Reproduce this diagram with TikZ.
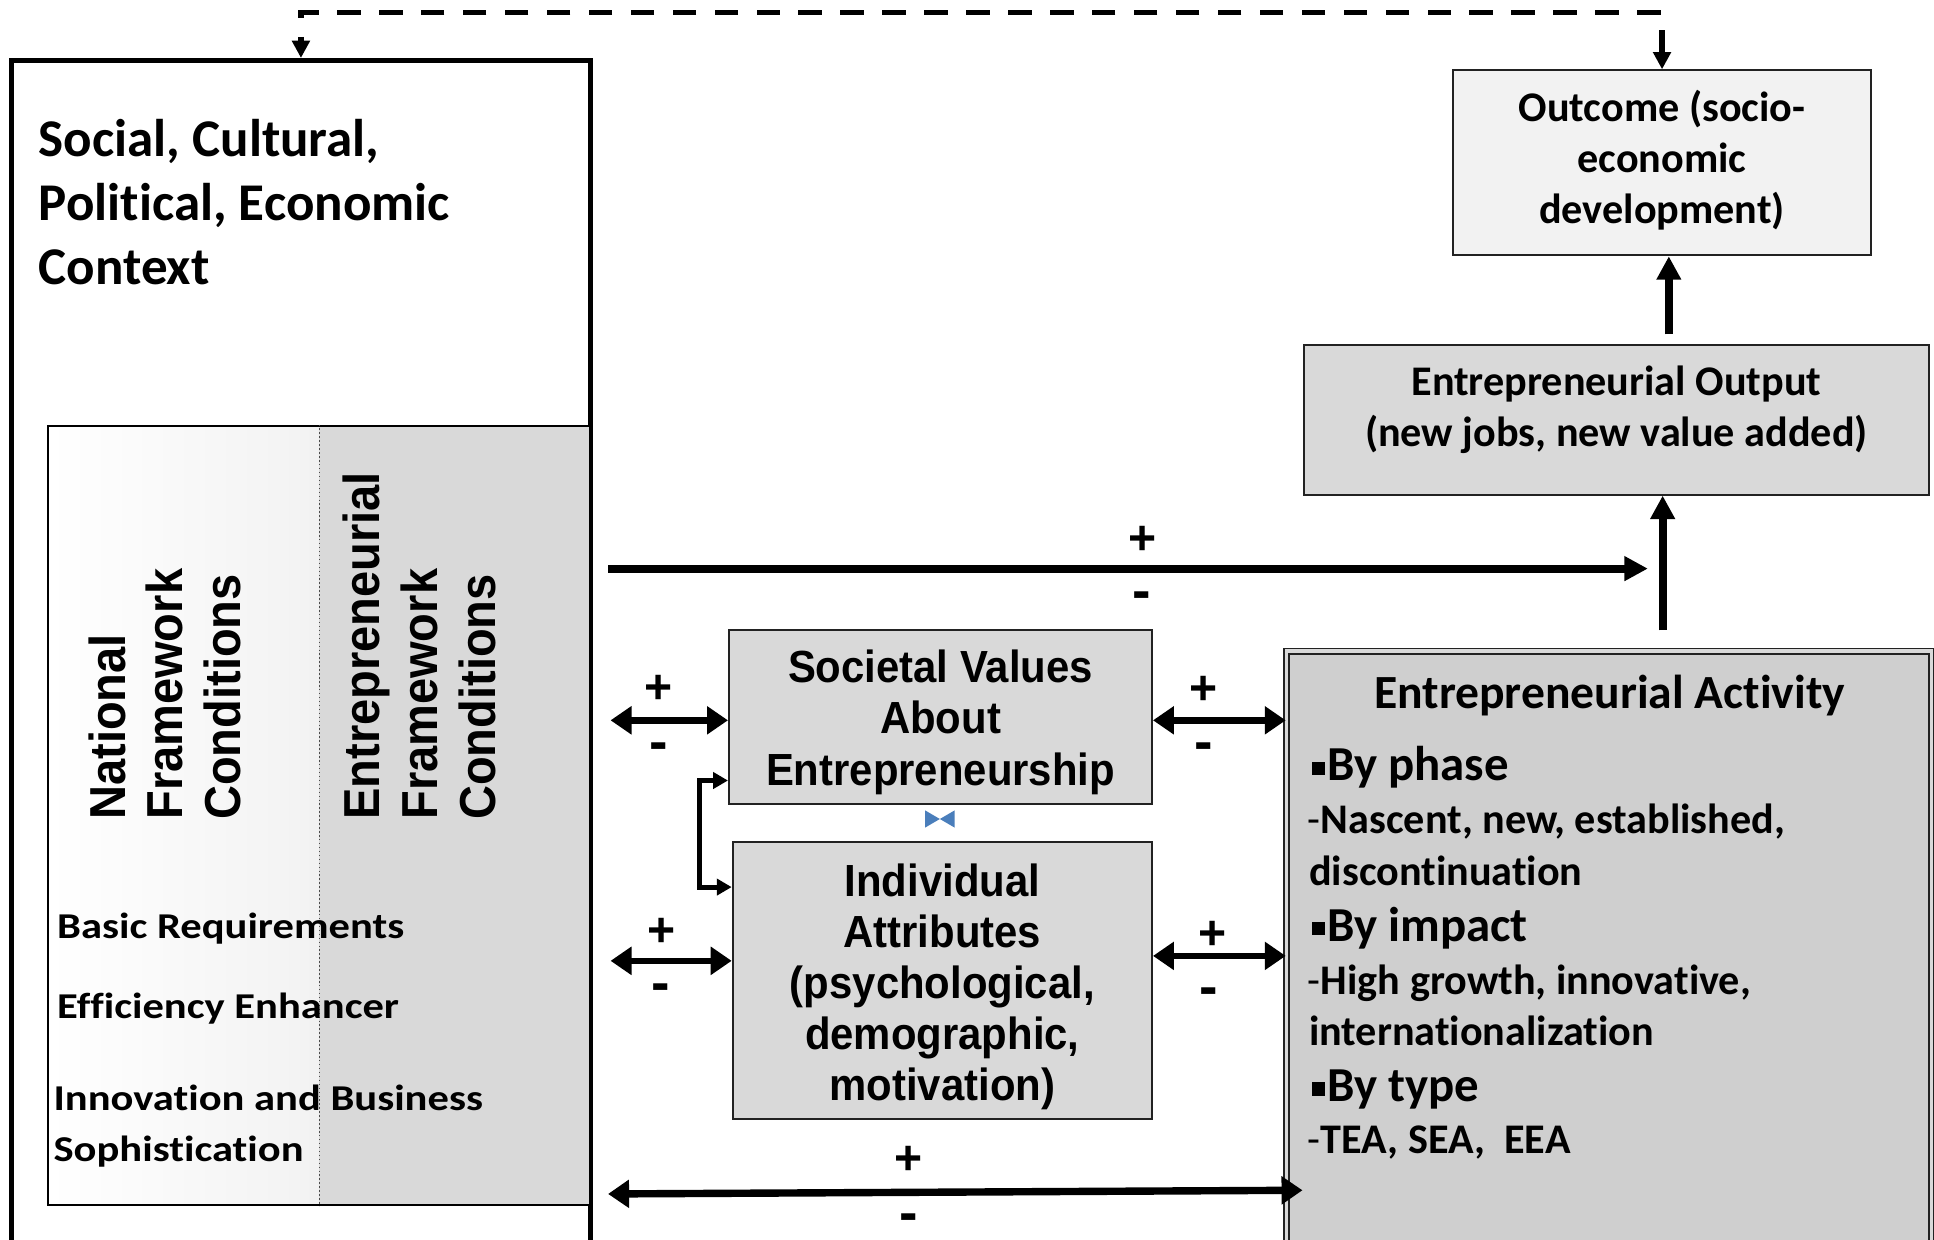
\documentclass[tikz,border=0pt]{standalone}
\usepackage{fontspec}
\setmainfont{Carlito}
\newfontfamily\calfont{Carlito}[Ligatures=NoCommon]
\newfontfamily\calwide{Carlito}[FakeStretch=1.17,Ligatures=NoCommon]
\newfontfamily\arfont{Liberation Sans}[FakeStretch=0.93]
\newfontfamily\arnfont{Liberation Sans}
\usetikzlibrary{arrows.meta,fit,calc}
\definecolor{boxgray}{HTML}{D9D9D9}
\definecolor{lightgraytwo}{HTML}{F2F2F2}
\definecolor{actgray}{HTML}{CFCFCF}
\definecolor{bowblue}{HTML}{4A7EBB}
\definecolor{edgecol}{HTML}{222222}
\newcommand\fsz[2]{\fontsize{#1pt}{#2pt}\selectfont}
\newcommand\bsq{\raisebox{0.12em}{\rule{0.27em}{0.27em}}\hspace{0.05em}}
\begin{document}
\begin{tikzpicture}[x=0.5pt,y=-0.5pt,
  gbox/.style={draw=edgecol, line width=0.8pt, inner sep=0pt},
  bigarrow/.style={line width=3.3pt, -{Triangle[length=9.5pt,width=9.5pt]}},
  dblarrow/.style={line width=2.7pt, {Triangle[length=8.5pt,width=11pt]}-{Triangle[length=8.5pt,width=11pt]}},
  brkarrow/.style={line width=2pt, {Triangle[length=6pt,width=6.5pt]}-{Triangle[length=6pt,width=6.5pt]}},
  dasharrow/.style={line width=2.2pt, dash pattern=on 9.5pt off 7.5pt, {Triangle[length=7pt,width=7pt]}-{Triangle[length=7pt,width=7pt]}},
  pm/.style={font=\arnfont\bfseries\fsz{19.5}{21}, inner sep=0pt},
  mn/.style={font=\arnfont\bfseries\fsz{22.5}{24}, inner sep=0pt},
  titleline/.style={anchor=base west, inner sep=0pt, font=\calfont\bfseries\fsz{21.5}{26}},
  rottext/.style={rotate=90, anchor=base west, inner sep=0pt, font=\arfont\bfseries\fsz{20.5}{23}},
  leftline/.style={anchor=base west, inner sep=0pt, font=\calwide\bfseries\fsz{14.75}{17}},
  boxtxt/.style={align=center, inner sep=0pt, font=\arfont\bfseries\fsz{18.25}{21}},
  caltxt/.style={align=center, inner sep=0pt, font=\calfont\bfseries\fsz{17.1}{20.75}},
  bulletline/.style={anchor=base west, inner sep=0pt, font=\calfont\bfseries\fsz{19.8}{23}},
  subline/.style={anchor=base west, inner sep=0pt, font=\calfont\bfseries\fsz{17.1}{21}}
]
\useasboundingbox (0,0) rectangle (1568,1005);
\fill[white] (0,0) rectangle (1568,1005);

% context box
\node[fit={(9,49) (479,1015)}, draw=black, line width=2pt, inner sep=0pt] (ctx) {};
\node[titleline] (t1) at (31,127) {Social, Cultural,};
\node[titleline] (t2) at (31,179) {Political, Economic};
\node[titleline] (t3) at (31,231) {Context};

% framework conditions box
\fill[left color=white, right color=lightgraytwo] (39,345) rectangle (259,977);
\fill[boxgray] (259,345) rectangle (478,977);
\node[fit={(39,345) (478,977)}, draw=black, line width=0.8pt, inner sep=0pt] (fc) {};
\draw[densely dotted, line width=0.6pt, black!70] ($(fc.north west)!0.501!(fc.north east)$) -- ($(fc.south west)!0.501!(fc.south east)$);
\node[rottext] (nfc1) at (102,665) {National};
\node[rottext] (nfc2) at (148,665) {Framework};
\node[rottext] (nfc3) at (195,665) {Conditions};
\node[rottext] (efc1) at (308,665) {Entrepreneurial};
\node[rottext] (efc2) at (355,665) {Framework};
\node[rottext] (efc3) at (402,665) {Conditions};
\node[leftline] (br) at (46,761) {Basic Requirements};
\node[leftline] (ee) at (46,826) {Efficiency Enhancer};
\node[leftline] (ib1) at (43,900) {Innovation and Business};
\node[leftline] (ib2) at (43,942) {Sophistication};

% middle boxes
\node[fit={(591,511) (934,652)}, gbox, fill=boxgray] (soc) {};
\node[boxtxt] (soct) at ($(soc.center)+(0,4)$) {Societal Values\\About\\Entrepreneurship};
\node[fit={(594,683) (934,907)}, gbox, fill=boxgray] (ind) {};
\node[boxtxt, font=\arfont\bfseries\fsz{18.25}{20.75}] (indt) at ($(ind.center)+(0,5)$) {Individual\\Attributes\\(psychological,\\demographic,\\motivation)};
\fill[bowblue] (750,657) -- (762,664) -- (750,671) -- cycle (774,657) -- (762,664) -- (774,671) -- cycle;

% right boxes
\node[fit={(1178,57) (1517,207)}, gbox, fill=lightgraytwo] (outc) {};
\node[caltxt] (outct) at ($(outc.center)+(0,-2)$) {Outcome (socio-\\economic\\development)};
\node[fit={(1057,280) (1564,401)}, gbox, fill=boxgray] (out) {};
\node[caltxt] (outt) at ($(out.center)+(0,-8)$) {Entrepreneurial Output\\(new jobs, new value added)};
\node[fit={(1043,528) (1566,1020)}, draw=edgecol, line width=0.6pt, double=white!85!black, double distance=1.5pt, fill=actgray, inner sep=0pt] (act) {};
\node[inner sep=0pt, font=\calfont\bfseries\fsz{19.3}{23}] (eat) at (1305,564) {Entrepreneurial Activity};
\node[bulletline] (p1) at (1063,633) {\bsq By phase};
\node[subline] (p2) at (1060,676) {{\mdseries -}Nascent, new, established,};
\node[subline] (p3) at (1061,718) {discontinuation};
\node[bulletline] (i1) at (1063,763) {\bsq By impact};
\node[subline] (i2) at (1060,806) {{\mdseries -}High growth, innovative,};
\node[subline] (i3) at (1061,848) {internationalization};
\node[bulletline] (y1) at (1063,893) {\bsq By type};
\node[subline] (y2) at (1060,935) {{\mdseries -}TEA, SEA,\ \ EEA};

% connectors
\draw[dasharrow] (outc.north) -- ++(0,-46) -| (ctx.north);

\coordinate (la1) at (493,461);
\coordinate (la2) at (1336,461);
\draw[bigarrow] (la1) -- (la2);
\node[pm] (lap) at (926,438) {+};
\node[mn] (lam) at (926,487) {-};

\coordinate (va1) at (1348,511);
\draw[bigarrow] (va1) -- (va1 |- out.south);
\coordinate (va2) at (1353,271);
\draw[bigarrow] (va2) -- (va2 |- outc.south);

\coordinate (sl1) at (495,584);
\draw[dblarrow] (sl1) -- (sl1 -| soc.west);
\node[pm] (slp) at (534,559) {+};
\node[mn] (slm) at (534,609) {-};
\coordinate (il1) at (495,779);
\draw[dblarrow] (il1) -- (il1 -| ind.west);
\node[pm] (ilp) at (536,756) {+};
\node[mn] (ilm) at (536,805) {-};

\draw[dblarrow] (soc.east |- sl1) -- (act.west |- sl1);
\node[pm] (srp) at (976,560) {+};
\node[mn] (srm) at (976,609) {-};
\coordinate (irr) at ($(ind.east)+(0,-20)$);
\draw[dblarrow] (irr) -- (irr -| act.west);
\node[pm] (irp) at (983,758) {+};
\node[mn] (irm) at (980,808) {-};

\coordinate (b1) at (493,968);
\coordinate (b2) at (1056,965);
\draw[dblarrow, line width=3pt] (b1) -- (b2);
\node[pm] (bp) at (737,941) {+};
\node[mn] (bm) at (737,991) {-};

\draw[brkarrow] ($(soc.south west)+(0,-20)$) -- ++(-23,0) |- ($(ind.north west)+(0,37)$);
\end{tikzpicture}
\end{document}
